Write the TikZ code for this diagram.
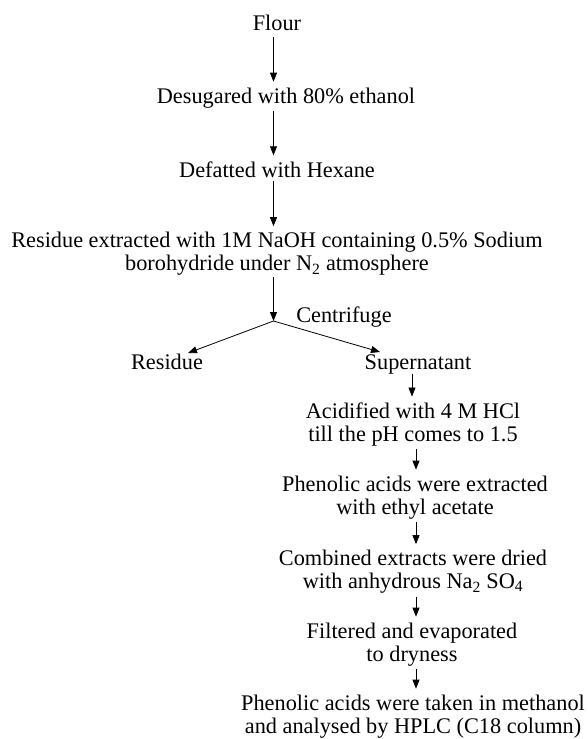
\documentclass[tikz,border=0pt]{standalone}
\usepackage{fontspec}
\setmainfont{Liberation Serif}
\usetikzlibrary{arrows.meta}
\begin{document}
\begin{tikzpicture}[x=1pt,y=-1pt,
  lbl/.style={font=\fontsize{22.3}{23}\selectfont, align=center, inner sep=0pt},
  arr/.style={-{Triangle[length=9pt,width=7pt]}, line width=0.8pt, shorten <=3pt, shorten >=6pt}]
\useasboundingbox (0,0) rectangle (587,739);
% left column
\node[lbl] (flour) at (277,22.5) {Flour};
\node[lbl] (desug) at (286,98) {Desugared with 80\% ethanol};
\node[lbl] (defat) at (277,169.5) {Defatted with Hexane};
\node[lbl] (resid) at (277,254) {Residue extracted with 1M NaOH containing 0.5\% Sodium\\borohydride under N\textsubscript{2} atmosphere};
\node[lbl] (centri) at (344,317) {Centrifuge};
\node[lbl] (residue) at (167,361.5) {Residue};
\node[lbl] (super) at (418,364) {Supernatant};
% right column
\node[lbl] (acid) at (413,424.5) {Acidified with 4 M HCl\\till the pH comes to 1.5};
\node[lbl] (extr) at (415,497.5) {Phenolic acids were extracted\\with ethyl acetate};
\node[lbl] (comb) at (413,572) {Combined extracts were dried\\with anhydrous Na\textsubscript{2} SO\textsubscript{4}};
\node[lbl] (filt) at (412,644.5) {Filtered and evaporated\\to dryness};
\node[lbl] (final) at (413,716.5) {Phenolic acids were taken in methanol\\and analysed by HPLC (C18 column)};
% helper coordinates
\coordinate (ax) at (273.5,0);
\coordinate (bx) at (412,0);
\coordinate (cx) at (416,0);
\coordinate (br) at (273.5,321);
\coordinate (tipL) at (188,353);
\coordinate (tipR) at (380,352);
% connectors
\draw[arr, shorten <=6pt] (flour.south -| ax) -- (desug.north -| ax);
\draw[arr] (desug.south -| ax) -- (defat.north -| ax);
\draw[arr] (defat.south -| ax) -- (resid.north -| ax);
\draw[arr, shorten <=1pt, shorten >=0pt] (resid.south -| ax) -- (br);
\draw[arr, shorten <=0pt, shorten >=0pt] (br) -- (tipL);
\draw[arr, shorten <=0pt, shorten >=0pt] (br) -- (tipR);
\draw[arr, shorten <=0pt] (super.south -| bx) -- (acid.north -| bx);
\draw[arr] (acid.south -| cx) -- (extr.north -| cx);
\draw[arr] (extr.south -| cx) -- (comb.north -| cx);
\draw[arr] (comb.south -| cx) -- (filt.north -| cx);
\draw[arr] (filt.south -| cx) -- (final.north -| cx);
\end{tikzpicture}
\end{document}
